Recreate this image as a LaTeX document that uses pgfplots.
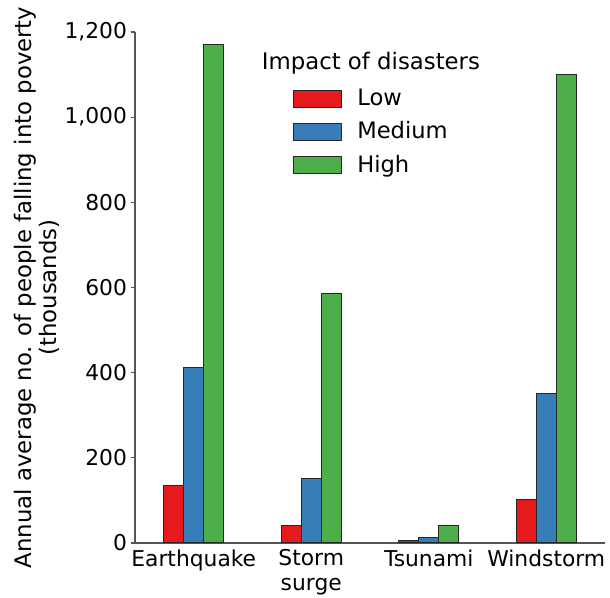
\documentclass[border=0pt]{standalone}
\usepackage{fontspec}
\setmainfont{DejaVu Sans}
\usepackage{pgfplots}
\pgfplotsset{compat=1.18}
\definecolor{cLow}{HTML}{E41A1C}
\definecolor{cMed}{HTML}{377EB8}
\definecolor{cHigh}{HTML}{4DAF4A}
\definecolor{axgray}{HTML}{555555}
\begin{document}
\begin{tikzpicture}
\begin{axis}[
  at={(0,0)}, anchor=south west,
  scale only axis, width=235pt, height=255.5pt,
  font=\fontsize{10.9}{12.5}\selectfont,
  ybar=0pt, bar width=10pt,
  xmin=-0.5, xmax=3.5, ymin=0, ymax=1200,
  axis x line*=bottom, axis y line*=left,
  axis line style={-, draw=axgray, line width=0.6pt},
  every outer x axis line/.append style={-},
  every outer y axis line/.append style={-},
  xtick={0,1,2,3},
  xticklabels={Earthquake,Storm\\surge,Tsunami,Windstorm},
  xticklabel style={align=center, yshift=2.2pt},
  x tick style={draw=none},
  ytick={0,200,400,600,800,1000,1200},
  yticklabel style={xshift=1.5pt},
  tick align=outside, major tick length=2pt,
  y tick style={draw=axgray, line width=0.6pt},
  /pgf/number format/assume math mode=true,
  /pgf/number format/1000 sep={,},
  ylabel={Annual average no. of people falling into poverty\\(thousands)},
  ylabel style={align=center, at={(axis description cs:-0.2085,0.5)}, anchor=center,
    font=\fontsize{11.4}{12.5}\selectfont},
  legend cell align=left,
  legend style={draw=none, fill=none, at={(axis description cs:0.336,0.897)}, anchor=north west,
    inner sep=0pt, row sep=2.6pt, font=\fontsize{11.3}{12.5}\selectfont,
    /tikz/every odd column/.append style={column sep=5.5pt}},
  legend image code/.code={\draw[#1, draw=black!85, line width=0.5pt] (0pt,-4.25pt) rectangle (24pt,4.25pt);},
  every axis plot/.append style={draw=black!85, line width=0.5pt},
]
\addplot[fill=cLow] coordinates {(0,136) (1,40) (2,5) (3,103)};
\addplot[fill=cMed] coordinates {(0,412) (1,151) (2,13) (3,352)};
\addplot[fill=cHigh] coordinates {(0,1170) (1,585) (2,40) (3,1101)};
\legend{Low,Medium,High}
\node[anchor=center, font=\fontsize{11.4}{12.5}\selectfont] at (axis description cs:0.502,0.939) {Impact of disasters};
\end{axis}
\pgfresetboundingbox
\path (-67.5pt,-27.5pt) rectangle (237.5pt,271.5pt);
\end{tikzpicture}
\end{document}
